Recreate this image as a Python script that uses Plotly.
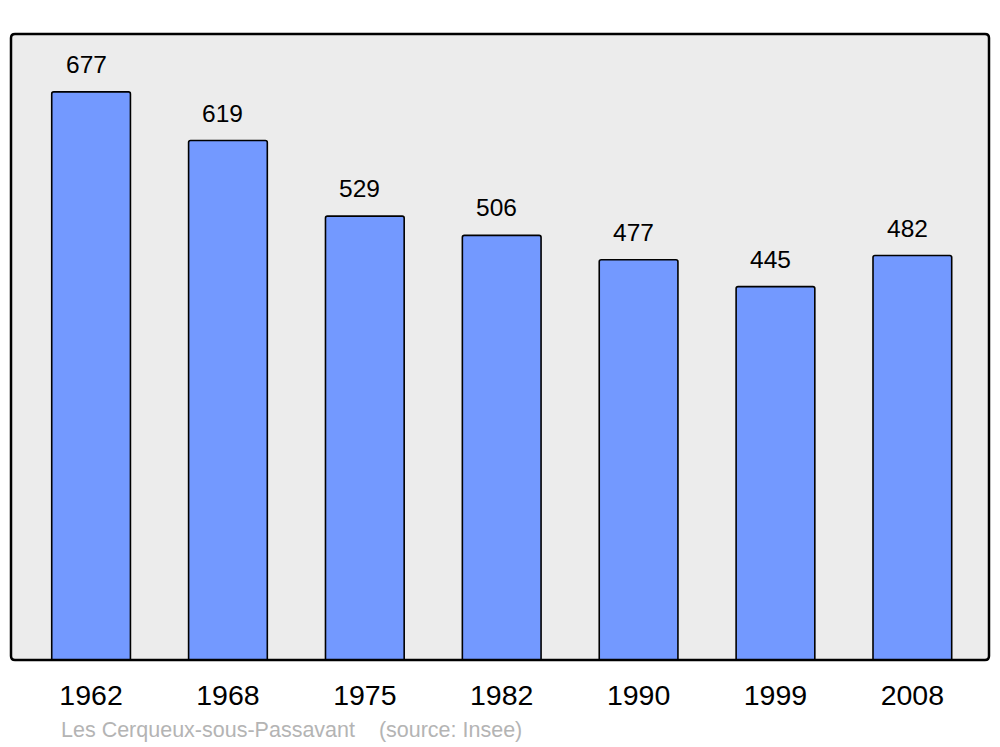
import plotly.graph_objects as go

years = ["1962", "1968", "1975", "1982", "1990", "1999", "2008"]
population = [677, 619, 529, 506, 477, 445, 482]
commune = "Les Cerqueux-sous-Passavant"
source = "(source: Insee)"

fig = go.Figure()
fig.add_trace(go.Bar(
    x=list(range(len(years))), y=population,
    width=0.575,
    marker=dict(color="#7399ff", line=dict(color="#000000", width=1.6), cornerradius=2),
    hoverinfo="skip",
))

for i, v in enumerate(population):
    fig.add_annotation(x=i, y=v, text=str(v), showarrow=False,
                       yanchor="bottom", yshift=12, xshift=-5,
                       font=dict(size=24.5, color="#000000"))

fig.add_annotation(xref="paper", yref="paper", x=0.049, y=-0.112, xanchor="left",
                   yanchor="middle", showarrow=False,
                   text=commune + "&nbsp;&nbsp;&nbsp;&nbsp;" + source,
                   font=dict(size=21.5, color="#b4b4b4"))

# frame with slightly rounded corners
rx, ry = 4 / 978, 4 / 626
frame = (f"M {rx},0 L {1-rx},0 Q 1,0 1,{ry} L 1,{1-ry} Q 1,1 {1-rx},1 "
         f"L {rx},1 Q 0,1 0,{1-ry} L 0,{ry} Q 0,0 {rx},0 Z")
fig.add_shape(type="path", xref="paper", yref="paper", path=frame,
              line=dict(color="#000000", width=2.5), layer="above")

fig.update_layout(
    width=1000, height=747,
    margin=dict(l=11, r=11, t=34, b=87),
    paper_bgcolor="#ffffff", plot_bgcolor="#ececec",
    font=dict(family="Liberation Sans, Arial, sans-serif"),
    showlegend=False,
    xaxis=dict(range=[-0.585, 6.56], tickvals=list(range(len(years))), ticktext=years,
               showgrid=False, zeroline=False, ticks="outside", ticklen=10,
               tickcolor="rgba(0,0,0,0)", tickfont=dict(size=28.5, color="#000000")),
    yaxis=dict(range=[0, 746], showgrid=False, zeroline=False, showticklabels=False),
)

fig.write_html("out.html", config={"displayModeBar": False},
               post_script="document.body.style.margin='0';document.body.style.overflow='hidden';")
